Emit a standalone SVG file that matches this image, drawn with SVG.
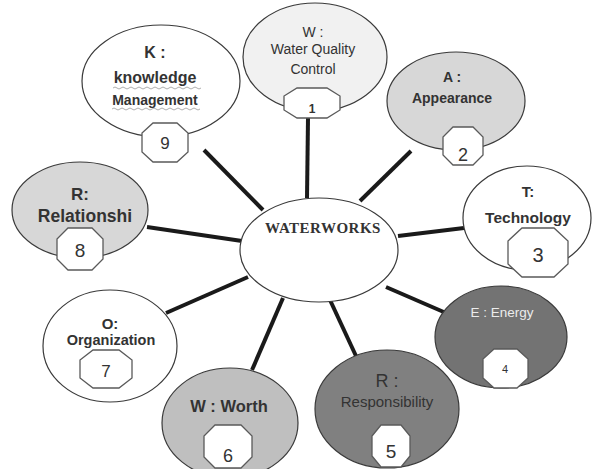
<svg xmlns="http://www.w3.org/2000/svg" width="593" height="469" viewBox="0 0 593 469">
<style>
.e{stroke:#3a3a3a;stroke-width:1.2}
.oc{fill:#fff;stroke:#5a5a5a;stroke-width:1.3}
.t{font-family:"Liberation Sans",Arial,sans-serif;text-anchor:middle;fill:#333}
.b{font-weight:bold}
.n{font-family:"Liberation Sans",Arial,sans-serif;text-anchor:middle;fill:#333}
.c{stroke:#1a1a1a;stroke-width:4;stroke-linecap:butt}
.sq{fill:none;stroke:#999;stroke-width:0.8}
</style>
<rect width="593" height="469" fill="#fff"/>
<g id="connectors">
<line class="c" x1="308" y1="118" x2="307" y2="198"/>
<line class="c" x1="204" y1="150" x2="263" y2="210"/>
<line class="c" x1="411" y1="151" x2="360" y2="201"/>
<line class="c" x1="147" y1="227" x2="242" y2="241"/>
<line class="c" x1="398" y1="236" x2="464" y2="228"/>
<line class="c" x1="248" y1="277" x2="166" y2="313"/>
<line class="c" x1="386" y1="287" x2="446" y2="313"/>
<line class="c" x1="283" y1="298" x2="252" y2="370"/>
<line class="c" x1="330" y1="300" x2="356" y2="356"/>
</g>
<g id="center">
<ellipse class="e" cx="319" cy="250" rx="79" ry="52" fill="#fff"/>
<text class="t b" x="323" y="233" style="font-family:'Liberation Serif','Times New Roman',serif;font-size:15px;letter-spacing:0.5px;fill:#333">WATERWORKS</text>
</g>
<g id="n1">
<ellipse class="e" cx="315" cy="57" rx="72" ry="54" fill="#f1f1f1"/>
<text class="t" x="313" y="37" font-size="14" fill="#444">W :</text>
<text class="t" x="313" y="54" font-size="14">Water Quality</text>
<text class="t" x="313" y="74" font-size="14">Control</text>
<polygon class="oc" points="297,88 327,88 340,96 340,110 327,118 297,118 284,110 284,96"/>
<text class="n b" x="312" y="113" font-size="12">1</text>
</g>
<g id="n9">
<ellipse class="e" cx="161" cy="81" rx="79" ry="56" fill="#fff"/>
<text class="t b" x="155" y="58" font-size="16">K :</text>
<text class="t b" x="155" y="83" font-size="16">knowledge</text>
<path class="sq" d="M113,88 q2,-2 4,0 t4,0 t4,0 t4,0 t4,0 t4,0 t4,0 t4,0 t4,0 t4,0 t4,0 t4,0 t4,0 t4,0 t4,0 t4,0 t4,0 t4,0 t4,0 t4,0 t4,0 t4,0"/>
<text class="t b" x="155" y="105" font-size="14">Management</text>
<path class="sq" d="M112,109 q2,-2 4,0 t4,0 t4,0 t4,0 t4,0 t4,0 t4,0 t4,0 t4,0 t4,0 t4,0 t4,0 t4,0 t4,0 t4,0 t4,0 t4,0 t4,0 t4,0 t4,0 t4,0 t4,0"/>
<polygon class="oc" points="153,123 177,123 188,133 188,152 177,162 153,162 142,152 142,133"/>
<text class="n" x="165" y="149" font-size="17">9</text>
</g>
<g id="n2">
<ellipse class="e" cx="456" cy="101" rx="69" ry="49" fill="#d7d7d7"/>
<text class="t b" x="452" y="82" font-size="14">A :</text>
<text class="t b" x="452" y="103" font-size="14">Appearance</text>
<polygon class="oc" points="453,127 473,127 483,137 483,155 473,165 453,165 443,155 443,137"/>
<text class="n" x="463" y="161" font-size="18">2</text>
</g>
<g id="n3">
<ellipse class="e" cx="527" cy="218" rx="64" ry="52" fill="#fff"/>
<text class="t b" x="528" y="197" font-size="15">T:</text>
<text class="t b" x="528" y="223" font-size="15.5">Technology</text>
<polygon class="oc" points="522,228 554,228 568,241 568,264 554,277 522,277 508,264 508,241"/>
<text class="n" x="538" y="262" font-size="20">3</text>
</g>
<g id="n4">
<ellipse class="e" cx="501" cy="337" rx="66" ry="51" fill="#737373"/>
<text class="t" x="502" y="317" font-size="13.5" style="fill:#ececec">E : Energy</text>
<polygon class="oc" points="494,349 517,349 528,359 528,378 517,388 494,388 483,378 483,359"/>
<text class="n" x="505" y="373" font-size="11">4</text>
</g>
<g id="n5">
<ellipse class="e" cx="387" cy="409" rx="72" ry="59" fill="#808080"/>
<text class="t" x="387" y="387" font-size="18">R :</text>
<text class="t" x="387" y="407" font-size="15">Responsibility</text>
<polygon class="oc" points="381,425 401,425 410,436 410,456 401,467 381,467 372,456 372,436"/>
<text class="n" x="391" y="458" font-size="19">5</text>
</g>
<g id="n6">
<ellipse class="e" cx="230" cy="423" rx="68" ry="55" fill="#bfbfbf"/>
<text class="t b" x="229" y="412" font-size="16.5">W : Worth</text>
<polygon class="oc" points="215,425 241,425 252,436 252,457 241,468 215,468 204,457 204,436"/>
<text class="n" x="228" y="462" font-size="18">6</text>
</g>
<g id="n7">
<ellipse class="e" cx="110" cy="346" rx="67" ry="56" fill="#fff"/>
<text class="t b" x="110" y="329" font-size="15">O:</text>
<text class="t b" x="111" y="345" font-size="14.5">Organization</text>
<polygon class="oc" points="93,350 119,350 132,360 132,378 119,388 93,388 80,378 80,360"/>
<text class="n" x="106" y="377" font-size="17">7</text>
</g>
<g id="n8">
<ellipse class="e" cx="80" cy="210" rx="68" ry="48" fill="#d7d7d7"/>
<text class="t b" x="80" y="200" font-size="17">R:</text>
<text class="t b" x="85" y="222" font-size="17.5">Relationshi</text>
<polygon class="oc" points="68,228 92,228 103,239 103,259 92,270 68,270 57,259 57,239"/>
<text class="n" x="80" y="257" font-size="19">8</text>
</g>
</svg>
